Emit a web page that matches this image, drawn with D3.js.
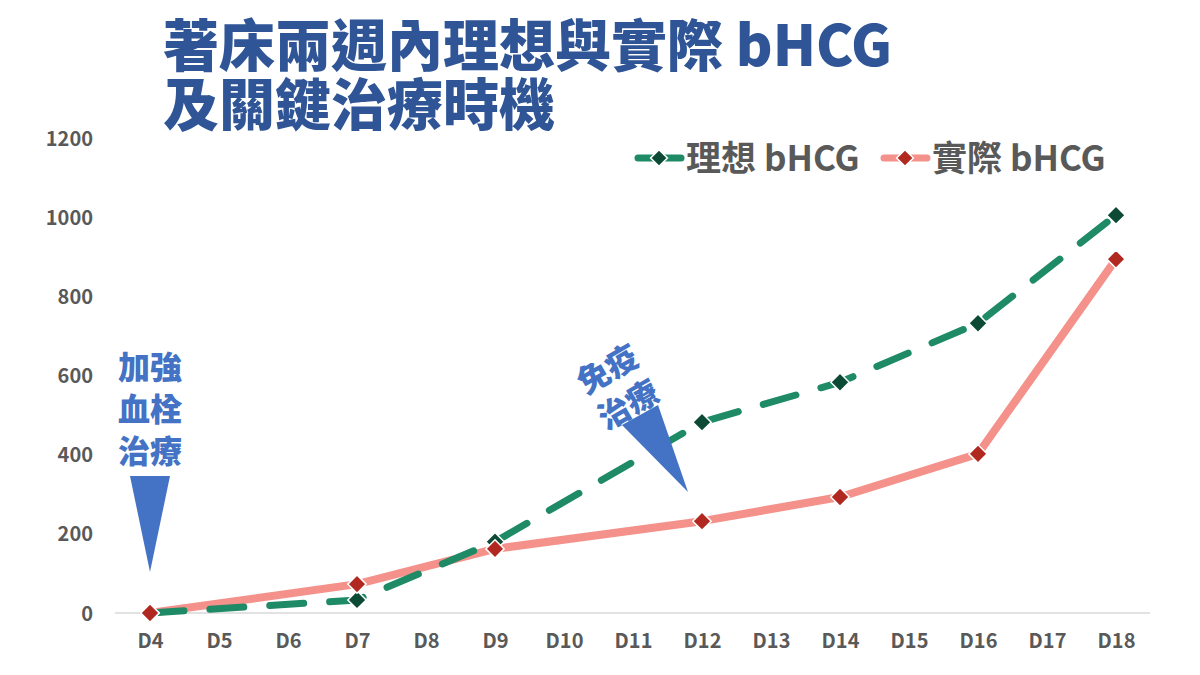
<!DOCTYPE html>
<html>
<head>
<meta charset="utf-8">
<script src="https://cdn.jsdelivr.net/npm/d3@7"></script>
<style>
  body { margin: 0; background: #fff; }
  svg text { font-family: "Noto Sans CJK TC", "Noto Sans", sans-serif; }
  .domain { display: none; }
</style>
</head>
<body>
<svg id="chart" width="1200" height="675"></svg>
<script>
var days = ["D4","D5","D6","D7","D8","D9","D10","D11","D12","D13","D14","D15","D16","D17","D18"];
var pointDays = ["D4","D7","D9","D12","D14","D16","D18"];
var idealVals = [0, 33, 180, 482, 583, 732, 1005];
var actualVals = [0, 73, 162, 232, 293, 402, 894];
var yTicks = [0, 200, 400, 600, 800, 1000, 1200];

var svg = d3.select("#chart");

var x = d3.scalePoint().domain(days).range([115.5, 1150.5]).padding(0.5);
var y = d3.scaleLinear().domain([0, 1200]).range([613, 138]);

// baseline
svg.append("line")
  .attr("x1", 115).attr("x2", 1150)
  .attr("y1", y(0)).attr("y2", y(0))
  .attr("stroke", "#d9d9d9").attr("stroke-width", 1.5);

var yAxis = svg.append("g")
  .attr("transform", "translate(98,0)")
  .call(d3.axisLeft(y).tickValues(yTicks).tickFormat(d3.format("d")).tickSize(0).tickPadding(5));
yAxis.selectAll("text")
  .attr("fill", "#595959")
  .style("font-family", "'Noto Sans CJK TC', sans-serif")
  .style("font-size", "20px").style("font-weight", 700)
  .attr("dy", "0.35em");

var xAxis = svg.append("g")
  .attr("transform", "translate(0," + 613 + ")")
  .call(d3.axisBottom(x).tickSize(0).tickPadding(21));
xAxis.selectAll("text")
  .attr("fill", "#595959")
  .style("font-family", "'Noto Sans CJK TC', sans-serif")
  .style("font-size", "20px").style("font-weight", 700);

var ideal = pointDays.map(function(d, i) { return {day: d, v: idealVals[i]}; });
var actual = pointDays.map(function(d, i) { return {day: d, v: actualVals[i]}; });

var line = d3.line()
  .x(function(d) { return x(d.day); })
  .y(function(d) { return y(d.v); });

svg.append("path").datum(actual)
  .attr("d", line).attr("fill", "none")
  .attr("stroke", "#f4918a").attr("stroke-width", 8)
  .attr("stroke-linejoin", "round");

svg.append("path").datum(ideal)
  .attr("d", line).attr("fill", "none")
  .attr("stroke", "#1e8a66").attr("stroke-width", 7)
  .attr("stroke-linecap", "round")
  .attr("stroke-dasharray", "34,26");

var diamond = d3.symbol().type(d3.symbolDiamond2).size(215);

function markers(data, color) {
  svg.append("g").selectAll("path").data(data).join("path")
    .attr("d", diamond)
    .attr("transform", function(d) { return "translate(" + x(d.day) + "," + y(d.v) + ")"; })
    .attr("fill", color).attr("stroke", "#fff").attr("stroke-width", 1.5);
}
markers(ideal, "#0d4a35");
markers(actual, "#b0281f");

// title
var titleLines = ["著床兩週內理想與實際 bHCG", "及關鍵治療時機"];
svg.append("g").selectAll("text").data(titleLines).join("text")
  .attr("x", 163).attr("y", function(d, i) { return 66 + i * 59; })
  .attr("fill", "#2f5597")
  .style("font-size", "56px").style("font-weight", 900)
  .text(function(d) { return d; });

// legend
var legend = [
  {name: "理想 bHCG", line: "#1e8a66", mark: "#0d4a35", x: 636},
  {name: "實際 bHCG", line: "#f4918a", mark: "#b0281f", x: 882}
];
var lg = svg.append("g").selectAll("g").data(legend).join("g")
  .attr("transform", function(d) { return "translate(" + d.x + ",158)"; });
lg.append("line").attr("x1", 2).attr("x2", 45)
  .attr("stroke", function(d) { return d.line; }).attr("stroke-width", 7)
  .attr("stroke-linecap", "round");
lg.append("path").attr("d", d3.symbol().type(d3.symbolDiamond2).size(180))
  .attr("transform", "translate(23,0)")
  .attr("fill", function(d) { return d.mark; }).attr("stroke", "#fff").attr("stroke-width", 1.5);
lg.append("text").attr("x", 50).attr("dy", "0.36em")
  .attr("fill", "#595959").style("font-size", "35px").style("font-weight", 700)
  .text(function(d) { return d.name; });

// annotations
var blue = "#4472c4";
var a1 = svg.append("text").attr("fill", blue).attr("text-anchor", "middle")
  .style("font-size", "32px").style("font-weight", 900);
["加強", "血栓", "治療"].forEach(function(t, i) {
  a1.append("tspan").attr("x", x("D4")).attr("y", 379 + i * 42).text(t);
});
svg.append("path")
  .attr("d", "M" + (x("D4") - 20) + ",476L" + (x("D4") + 20) + ",476L" + x("D4") + ",572Z")
  .attr("fill", blue);

var a2 = svg.append("text").attr("fill", blue).attr("text-anchor", "middle")
  .attr("transform", "translate(618,387) rotate(-30)")
  .style("font-size", "32px").style("font-weight", 900);
a2.append("tspan").attr("x", 0).attr("y", -9).text("免疫");
a2.append("tspan").attr("x", 0).attr("y", 32).text("治療");
svg.append("path").attr("d", "M622,425L658,405L688,492Z").attr("fill", blue);
</script>
</body>
</html>
